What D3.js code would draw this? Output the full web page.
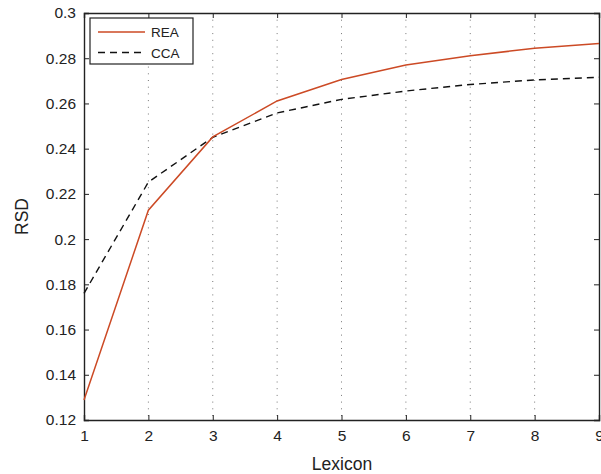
<!DOCTYPE html>
<html lang="en">
  <head>
    <meta charset="UTF-8" />
    <title>RSD vs Lexicon</title>
    <style>
      body { margin: 0; background: #fff; }
      text { font-family: 'Liberation Sans', Arial, sans-serif; fill: #222; }
    </style>
  </head>
  <body>
    <svg width="601" height="474"></svg>
    <script src="https://cdn.jsdelivr.net/npm/d3@7"></script>
    <script>
      const lexicon = [1, 2, 3, 4, 5, 6, 7, 8, 9];
      const rea = [0.1288, 0.2128, 0.2452, 0.2611, 0.2706, 0.2770, 0.2811, 0.2844, 0.2865];
      const cca = [0.1760, 0.2252, 0.2450, 0.2558, 0.2618, 0.2655, 0.2684, 0.2704, 0.2716];
      const yTicks = [0.12, 0.14, 0.16, 0.18, 0.2, 0.22, 0.24, 0.26, 0.28, 0.3];

      const margin = { left: 84, top: 13, right: 2, bottom: 54 };
      const width = 601 - margin.left - margin.right,
        height = 474 - margin.top - margin.bottom;

      const svg = d3.select('svg');
      const chart = svg.append('g').attr('transform', `translate(${margin.left},${margin.top})`);

      const x = d3.scaleLinear().domain([1, 9]).range([0, width]);
      const y = d3.scaleLinear().domain([0.12, 0.3]).range([height, 0]);

      // vertical dotted grid
      chart.append('g')
        .selectAll('line')
        .data(lexicon.slice(1, -1))
        .enter()
        .append('line')
        .attr('x1', d => x(d)).attr('x2', d => x(d))
        .attr('y1', 0).attr('y2', height)
        .attr('stroke', '#777')
        .attr('stroke-width', 1)
        .attr('stroke-dasharray', '1,5.7');

      // axes, ticks pointing inward
      const fmt = d => (d === 0.3 ? '0.3' : d === 0.2 ? '0.2' : d3.format('.2f')(d));
      const xb = chart.append('g').attr('transform', `translate(0,${height})`)
        .call(d3.axisBottom(x).tickValues(lexicon).tickSize(-5).tickPadding(10).tickFormat(d3.format('d')));
      const xt = chart.append('g')
        .call(d3.axisTop(x).tickValues(lexicon).tickSize(-5).tickFormat(''));
      const yl = chart.append('g')
        .call(d3.axisLeft(y).tickValues(yTicks).tickSize(-5).tickPadding(8).tickFormat(fmt));
      const yr = chart.append('g').attr('transform', `translate(${width},0)`)
        .call(d3.axisRight(y).tickValues(yTicks).tickSize(-5).tickFormat(''));

      [xb, xt, yl, yr].forEach(a => {
        a.select('.domain').attr('stroke', '#222').attr('stroke-width', 1.4);
        a.selectAll('.tick line').attr('stroke', '#222');
        a.selectAll('text').attr('font-size', 15.5).attr('fill', '#222')
          .style('font-family', "'Liberation Sans', Arial, sans-serif");
      });

      const line = d3.line().x((d, i) => x(lexicon[i])).y(d => y(d));

      chart.append('path').datum(cca)
        .attr('d', line)
        .attr('fill', 'none')
        .attr('stroke', '#111')
        .attr('stroke-width', 1.4)
        .attr('stroke-dasharray', '7,5');

      chart.append('path').datum(rea)
        .attr('d', line)
        .attr('fill', 'none')
        .attr('stroke', '#cc4a25')
        .attr('stroke-width', 1.5);

      // legend
      const legend = svg.append('g').attr('transform', 'translate(90,18)');
      legend.append('rect')
        .attr('width', 103).attr('height', 46)
        .attr('fill', '#fff').attr('stroke', '#222').attr('stroke-width', 1.2);
      const items = [
        { name: 'REA', color: '#cc4a25', dash: null },
        { name: 'CCA', color: '#111', dash: '7,5' },
      ];
      items.forEach((it, i) => {
        const yy = 14 + i * 20.5;
        legend.append('line')
          .attr('x1', 8).attr('x2', 55).attr('y1', yy).attr('y2', yy)
          .attr('stroke', it.color).attr('stroke-width', 1.4)
          .attr('stroke-dasharray', it.dash);
        legend.append('text')
          .attr('x', 61).attr('y', yy + 5)
          .attr('font-size', 13.5)
          .text(it.name);
      });

      // axis titles
      svg.append('text')
        .attr('x', 342).attr('y', 470)
        .attr('text-anchor', 'middle').attr('font-size', 17.5)
        .text('Lexicon');
      svg.append('text')
        .attr('transform', `translate(27.5,216.5) rotate(-90)`)
        .attr('text-anchor', 'middle').attr('font-size', 17.5)
        .text('RSD');
    </script>
  </body>
</html>
